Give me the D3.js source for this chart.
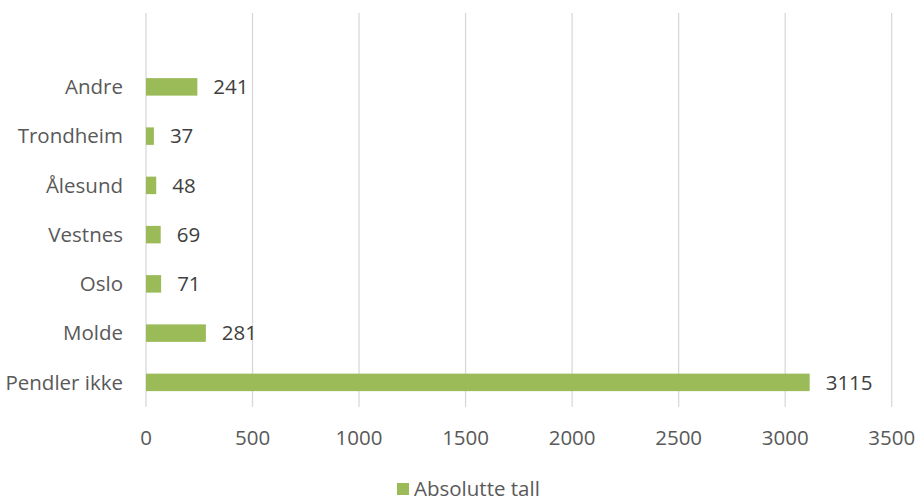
<!DOCTYPE html>
<html>
<head>
<meta charset="utf-8">
<script src="https://cdn.jsdelivr.net/npm/d3@7"></script>
<style>
  body { margin: 0; background: #fff; }
  text { font-family: "Open Sans", "Noto Sans", sans-serif; fill: #595959; }
</style>
</head>
<body>
<svg id="chart" width="919" height="501"></svg>
<script>
// data, top to bottom
const categories = ["Andre", "Trondheim", "Ålesund", "Vestnes", "Oslo", "Molde", "Pendler ikke"];
const values = [241, 37, 48, 69, 71, 281, 3115];
const xTicks = [0, 500, 1000, 1500, 2000, 2500, 3000, 3500];
const seriesName = "Absolutte tall";

const svg = d3.select("#chart");
const barColor = "#9bbb59";
const fontSize = 20.5;

const x = d3.scaleLinear().domain([0, 3500]).range([146, 891.7]);
// the original leaves one empty slot above the first category
const y = d3.scaleBand()
  .domain(["_blank", ...categories])
  .range([13, 407])
  .paddingInner(0.645)
  .paddingOuter(0.3225);

// gridlines
svg.append("g")
  .selectAll("line")
  .data(xTicks)
  .enter()
  .append("line")
    .attr("x1", d => x(d)).attr("x2", d => x(d))
    .attr("y1", 13).attr("y2", 407)
    .attr("stroke", "#d9d9d9")
    .attr("stroke-width", 1.3);

// tick labels
svg.append("g")
  .selectAll("text")
  .data(xTicks)
  .enter()
  .append("text")
    .attr("x", d => x(d))
    .attr("y", 438)
    .attr("dy", "0.35em")
    .attr("text-anchor", "middle")
    .attr("font-size", fontSize)
    .text(d => d);

const rows = categories.map((c, i) => ({ name: c, value: values[i] }));

// bars
svg.append("g")
  .selectAll("rect")
  .data(rows)
  .enter()
  .append("rect")
    .attr("x", x(0))
    .attr("y", d => y(d.name))
    .attr("width", d => x(d.value) - x(0))
    .attr("height", y.bandwidth())
    .attr("fill", barColor);

// category labels
svg.append("g")
  .selectAll("text")
  .data(rows)
  .enter()
  .append("text")
    .attr("x", 123)
    .attr("y", d => y(d.name) + y.bandwidth() / 2)
    .attr("dy", "0.35em")
    .attr("text-anchor", "end")
    .attr("font-size", fontSize)
    .text(d => d.name);

// value labels
svg.append("g")
  .selectAll("text")
  .data(rows)
  .enter()
  .append("text")
    .attr("x", d => x(d.value) + 16)
    .attr("y", d => y(d.name) + y.bandwidth() / 2)
    .attr("dy", "0.35em")
    .attr("font-size", fontSize)
    .style("fill", "#404040")
    .text(d => d.value);

// legend
const legend = svg.append("g").attr("transform", "translate(397, 483)");
legend.append("rect").attr("width", 12).attr("height", 12).attr("fill", barColor);
legend.append("text")
  .attr("x", 17).attr("y", 6).attr("dy", "0.35em")
  .attr("font-size", fontSize)
  .text(seriesName);
</script>
</body>
</html>
